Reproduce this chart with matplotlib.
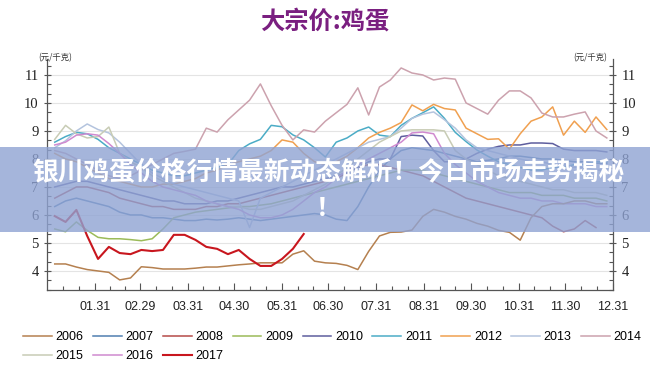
import numpy as np
import matplotlib
matplotlib.use("Agg")
import matplotlib.pyplot as plt
from matplotlib.patches import Rectangle

plt.rcParams['font.family'] = ['Liberation Sans', 'Noto Sans CJK SC', 'DejaVu Sans']

# weekly index (0 = first week of January)
weeks = np.arange(52)

s2006 = [4.25, 4.25, 4.14, 4.05, 4.0, 3.95, 3.68, 3.75, 4.15, 4.12, 4.07, 4.07, 4.07, 4.1, 4.14, 4.14,
         4.18, 4.22, 4.25, 4.29, 4.29, 4.29, 4.6, 4.72, 4.35, 4.29, 4.27, 4.2, 4.05, 4.7, 5.25, 5.38,
         5.39, 5.46, 5.95, 6.2, 6.1, 5.95, 5.85, 5.7, 5.6, 5.45, 5.38, 5.1, 5.9, 6.3, 6.4, 6.4,
         6.5, 6.5, 6.4, 6.4]
s2007 = [6.3, 6.5, 6.6, 6.5, 6.4, 6.3, 6.1, 6.0, 6.0, 5.9, 5.9, 5.85, 5.8, 5.8, 5.85, 5.82,
         5.85, 5.9, 5.85, 5.8, 5.85, 5.9, 5.95, 6.0, 6.05, 6.0, 5.85, 5.8, 6.3, 7.0, 7.6, 8.0,
         8.3, 8.4, 8.35, 8.3, 8.2, 8.1, 8.0, 7.9, 7.95, 8.0, 8.1, 8.1, 8.05, 8.0, 8.0, 7.95,
         7.9, 7.9, 7.85, 7.85]
s2008 = [6.6, 6.8, 7.0, 7.0, 6.9, 6.8, 6.6, 6.5, 6.4, 6.3, 6.3, 6.2, 6.2, 6.2, 6.3, 6.3,
         6.4, 6.4, 6.5, 6.6, 6.7, 6.8, 6.9, 7.0, 7.1, 7.2, 7.3, 7.5, 7.7, 7.8, 7.8, 7.7,
         7.6, 7.5, 7.4, 7.2, 7.0, 6.8, 6.6, 6.5, 6.4, 6.3, 6.2, 6.1, 6.0, 5.9, 5.6, 5.4,
         5.5, 5.8, 5.55]
s2009 = [5.5, 5.4, 5.75, 5.45, 5.2, 5.15, 5.15, 5.12, 5.08, 5.15, 5.5, 5.9, 6.0, 6.1, 6.15, 6.2,
         6.25, 6.3, 6.3, 6.35, 6.4, 6.5, 6.6, 6.7, 6.8, 6.9, 7.0, 7.1, 7.2, 7.3, 7.4, 7.5,
         7.6, 7.6, 7.6, 7.5, 7.4, 7.3, 7.2, 7.1, 7.0, 6.9, 6.8, 6.8, 6.8, 6.7, 6.7, 6.7,
         6.6, 6.6, 6.6, 6.5]
s2010 = [7.0, 7.1, 7.2, 7.2, 7.1, 7.0, 6.9, 6.8, 6.7, 6.6, 6.5, 6.5, 6.4, 6.4, 6.4, 6.5,
         6.5, 6.6, 6.7, 6.8, 6.9, 7.0, 7.0, 7.1, 7.2, 7.3, 7.4, 7.5, 7.7, 7.9, 8.0, 8.0,
         8.8, 8.85, 8.82, 8.3, 7.9, 7.9, 8.0, 8.2, 8.35, 8.45, 8.5, 8.5, 8.57, 8.57, 8.55, 8.35,
         8.3, 8.3, 8.3, 8.25]
s2011 = [8.6, 8.8, 8.95, 8.9, 8.7, 8.4, 8.2, 8.0, 7.8, 7.6, 7.5, 7.4, 7.4, 7.5, 7.6, 7.7,
         7.8, 8.3, 8.54, 8.7, 9.2, 9.15, 8.86, 8.68, 8.4, 8.07, 8.6, 8.75, 9.0, 9.14, 8.85, 8.8,
         9.2, 9.45, 9.65, 9.86, 9.45, 8.95, 8.62, 8.32, 8.1, 7.9, 7.8, 7.7, 7.6, 7.6, 7.7, 7.7,
         7.8, 7.8, 7.9, 7.9]
s2012 = [8.2, 8.0, 7.9, 7.7, 7.5, 7.3, 7.2, 7.1, 7.0, 7.0, 7.1, 7.1, 7.2, 7.3, 7.5, 7.6,
         7.8, 7.9, 8.0, 8.1, 8.3, 8.68, 8.6, 8.2, 7.9, 7.8, 7.9, 8.1, 8.4, 8.75, 8.95, 9.1,
         9.3, 9.93, 9.72, 9.95, 9.8, 9.75, 9.1, 8.9, 8.7, 8.72, 8.35, 8.9, 9.35, 9.5, 9.86, 8.85,
         9.35, 8.95, 9.5, 9.05]
s2013 = [8.4, 8.65, 9.0, 9.25, 9.05, 8.93, 8.6, 8.2, 7.8, 7.5, 7.3, 7.1, 7.0, 6.9, 6.8, 6.7,
         6.6, 6.5, 5.55, 6.6, 6.8, 7.0, 7.2, 7.4, 7.6, 7.8, 8.0, 8.2, 8.4, 8.6, 8.7, 8.8,
         9.1, 9.45, 9.6, 9.68, 9.4, 9.1, 8.68, 8.4, 8.3, 8.2, 8.1, 8.0, 7.9, 7.9, 7.8, 7.8,
         7.7, 7.7, 7.6, 7.6]
s2014 = [8.3, 8.2, 8.0, 7.8, 7.6, 7.4, 7.3, 7.4, 7.6, 7.8, 8.0, 8.2, 8.27, 8.35, 9.1, 8.96,
         9.4, 9.75, 10.1, 10.68, 9.9, 9.2, 8.68, 9.04, 8.96, 9.35, 9.65, 9.95, 10.54, 9.57, 10.57, 10.82,
         11.25, 11.07, 11.0, 10.82, 10.89, 10.85, 10.0, 9.8, 9.6, 10.1, 10.43, 10.43, 10.18, 9.64, 9.5, 9.5,
         9.6, 9.68, 9.0, 8.75]
s2015 = [8.7, 9.2, 8.9, 8.75, 8.8, 9.14, 8.2, 7.9, 7.7, 7.4, 7.2, 7.0, 6.8, 6.6, 6.5, 6.4,
         6.3, 6.3, 6.2, 6.2, 6.3, 6.4, 6.5, 6.7, 6.9, 7.1, 7.4, 7.7, 8.0, 8.3, 8.6, 8.8,
         9.0, 9.04, 9.04, 9.04, 9.0, 8.3, 8.0, 7.8, 7.6, 7.4, 7.3, 7.2, 7.1, 7.0, 6.9, 6.9,
         6.8, 6.8, 6.8, 6.7]
s2016 = [8.5, 8.6, 8.85, 8.9, 8.85, 8.55, 8.2, 7.8, 7.5, 7.2, 7.0, 6.9, 6.8, 6.7, 6.5, 6.4,
         6.3, 6.2, 6.0, 5.9, 5.9, 6.0, 6.2, 6.5, 6.8, 7.0, 7.3, 7.6, 7.8, 8.0, 8.2, 8.4,
         8.6, 8.93, 8.96, 8.9, 8.2, 7.8, 7.5, 7.2, 7.0, 6.8, 6.7, 6.6, 6.6, 6.5, 6.5, 6.4,
         6.4, 6.4, 6.3, 6.3]
s2017 = [5.96, 5.75, 6.18, 5.25, 4.43, 4.86, 4.64, 4.6, 4.75, 4.71, 4.75, 5.29, 5.29, 5.11, 4.86, 4.79,
         4.6, 4.75, 4.43, 4.18, 4.18, 4.43, 4.79, 5.32]

years = ['2006', '2007', '2008', '2009', '2010', '2011', '2012', '2013', '2014', '2015', '2016', '2017']
series = [s2006, s2007, s2008, s2009, s2010, s2011, s2012, s2013, s2014, s2015, s2016, s2017]
colors = ['#B5804F', '#4F7FB0', '#B54A48', '#9BBB59', '#5E5E9E', '#4BACC6',
          '#F0A050', '#B4C4DE', '#CCA2AE', '#C8CCB5', '#D08AD0', '#C8161E']

tick_labels = ['01.31', '02.29', '03.31', '04.30', '05.31', '06.30',
               '07.31', '08.31', '09.30', '10.31', '11.30', '12.31']
month_end_days = [31, 60, 91, 121, 152, 182, 213, 244, 274, 305, 335, 366]

fig = plt.figure(figsize=(6.5, 3.77), dpi=100)
ax = fig.add_axes([47 / 650, 1 - 290 / 377, 566 / 650, 231 / 377])

handles = []
for yr, vals, c in zip(years, series, colors):
    days = 5 + 7 * weeks[:len(vals)]
    lw = 1.5 if yr == '2017' else 1.1
    h, = ax.plot(days, vals, color=c, lw=lw, label=yr, zorder=3 if yr in ('2017', '2006') else 2)
    handles.append(h)

ax.set_xlim(0, 366)
ax.set_ylim(3.32, 11.57)
ax.set_yticks(range(4, 12))
ax.grid(axis='y', color='#E4E4E4', lw=0.8, zorder=0)
ax.set_axisbelow(True)

ax.set_xticks(month_end_days)
ax.set_xticklabels(tick_labels, fontsize=9)
starts = [0] + month_end_days[:-1]
minor = []
for a, b in zip(starts, month_end_days):
    minor += [a + (b - a) / 3, a + 2 * (b - a) / 3]
ax.set_xticks(minor, minor=True)
ax.tick_params(axis='x', direction='in', length=5, width=0.8, pad=8, colors='#555555', labelcolor='#222222')
ax.tick_params(axis='x', which='minor', direction='in', length=3, width=0.8, colors='#555555')

ax.set_yticks(np.arange(3.333, 11.5, 1 / 3), minor=True)
ax.tick_params(axis='y', direction='inout', length=5, width=0.8, labelsize=10.5, colors='#555555',
               labelcolor='#222222', left=True, right=True, labelleft=True, labelright=True)
ax.tick_params(axis='y', which='minor', direction='in', length=3, width=0.8, left=True, right=True,
               colors='#555555')
for lab in ax.get_yticklabels():
    lab.set_fontfamily('Liberation Serif')
ax.spines['top'].set_visible(False)
for s in ('left', 'right', 'bottom'):
    ax.spines[s].set_color('#555555')
    ax.spines[s].set_linewidth(0.9)

fig.text(0.5, 1 - 22 / 377, '大宗价:鸡蛋', ha='center', va='center', fontsize=17.5, fontweight='bold',
         color='#7A1F80', family=['Noto Sans CJK SC'])
fig.text(38 / 650, 1 - 58 / 377, '(元/千克)', ha='left', va='center', fontsize=6, color='#333333',
         family=['Noto Sans CJK SC'])
fig.text(607 / 650, 1 - 58 / 377, '(元/千克)', ha='right', va='center', fontsize=6, color='#333333',
         family=['Noto Sans CJK SC'])

# matplotlib fills legend columns first; reorder so rows read 2006..2014 then 2015..2017
order = [0, 9, 1, 10, 2, 11, 3, 4, 5, 6, 7, 8]
fig.legend([handles[i] for i in order], [years[i] for i in order],
           loc='upper left', bbox_to_anchor=(18 / 650, 1 - 326 / 377), ncol=9, frameon=False,
           fontsize=9, handlelength=2.3, handletextpad=0.3, columnspacing=0.75,
           labelspacing=0.55, borderaxespad=0)

# banner overlay
fig.add_artist(Rectangle((0, 1 - 232 / 377), 1, 85 / 377, transform=fig.transFigure,
                         facecolor='#8FA3D3', alpha=0.8, edgecolor='none', zorder=10))
fig.text(0.505, 1 - 172 / 377, '银川鸡蛋价格行情最新动态解析！今日市场走势揭秘', ha='center', va='center',
         fontsize=18.5, fontweight='bold', color='white', family=['Noto Sans CJK SC'], zorder=11)
fig.text(0.505, 1 - 208 / 377, '！', ha='center', va='center',
         fontsize=18.5, fontweight='bold', color='white', family=['Noto Sans CJK SC'], zorder=11)

fig.savefig('out.png', dpi=100)
